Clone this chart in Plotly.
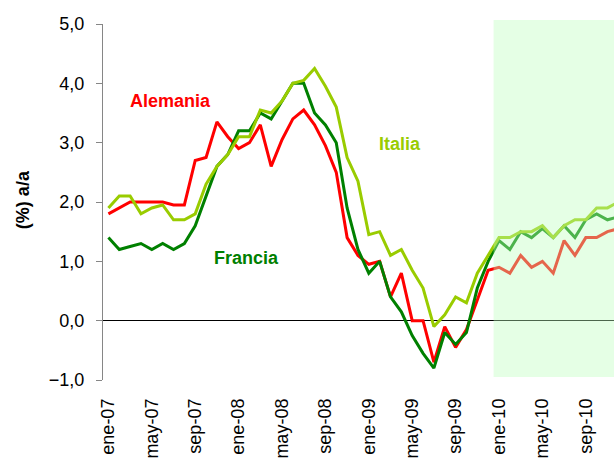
import plotly.graph_objects as go

# Spanish month abbreviations and years shown on the x axis
month_abbr = ['ene', 'feb', 'mar', 'abr', 'may', 'jun',
              'jul', 'ago', 'sep', 'oct', 'nov', 'dic']
years = ['07', '08', '09', '10']
months = [f'{m}-{y}' for y in years for m in month_abbr]

# year-on-year inflation (%), 2010 = forecast
alemania = [1.8, 1.9, 2.0, 2.0, 2.0, 2.0, 1.95, 1.95, 2.7, 2.75, 3.35, 3.1,
            2.9, 3.0, 3.3, 2.6, 3.05, 3.4, 3.55, 3.3, 2.95, 2.5, 1.4, 1.1,
            0.95, 1.0, 0.4, 0.8, 0.0, 0.0, -0.7, -0.1, -0.45, -0.15, 0.35, 0.85,
            0.9, 0.8, 1.1, 0.9, 1.0, 0.8, 1.35, 1.1, 1.4, 1.4, 1.5, 1.55]
francia = [1.4, 1.2, 1.25, 1.3, 1.2, 1.3, 1.2, 1.3, 1.6, 2.1, 2.6, 2.8,
           3.2, 3.2, 3.5, 3.4, 3.7, 4.0, 4.0, 3.5, 3.3, 3.0, 1.9, 1.2,
           0.8, 1.0, 0.4, 0.15, -0.25, -0.55, -0.8, -0.2, -0.4, -0.2, 0.55, 1.0,
           1.35, 1.2, 1.5, 1.4, 1.55, 1.4, 1.6, 1.4, 1.7, 1.8, 1.7, 1.75]
italia = [1.9, 2.1, 2.1, 1.8, 1.9, 1.95, 1.7, 1.7, 1.8, 2.3, 2.6, 2.8,
          3.1, 3.1, 3.55, 3.5, 3.7, 4.0, 4.05, 4.25, 3.95, 3.6, 2.75, 2.35,
          1.45, 1.5, 1.1, 1.2, 0.85, 0.55, -0.1, 0.1, 0.4, 0.3, 0.8, 1.1,
          1.4, 1.4, 1.5, 1.5, 1.6, 1.4, 1.6, 1.7, 1.7, 1.9, 1.9, 2.0]

forecast_start = 'ene-10'

series = [
    ('Alemania', alemania, '#ff0000'),
    ('Francia', francia, '#008000'),
    ('Italia', italia, '#99cc00'),
]

FONT = 'Liberation Sans, Arial, sans-serif'

fig = go.Figure()
for name, vals, color in series:
    fig.add_trace(go.Scatter(
        x=months, y=vals, name=name, mode='lines',
        line=dict(color=color, width=3),
    ))

# x range: first category at -0.5, chart cut off at the right
x_range = [-0.5, 46.6]
boundary_ticks = [k - 0.5 for k in range(0, len(months), 4)]

fig.update_layout(
    width=614, height=464,
    margin=dict(l=103, r=0, t=24, b=84),
    plot_bgcolor='white', paper_bgcolor='white',
    showlegend=False,
    separators=',.',
    font=dict(family=FONT, size=18, color='black'),
    xaxis=dict(
        type='category', range=x_range,
        tickmode='linear', tick0=0, dtick=4,
        tickangle=-90, ticks='', showline=False, showgrid=False,
        zeroline=False, ticklabelstandoff=14, automargin=False,
        tickfont=dict(size=18),
    ),
    xaxis2=dict(
        overlaying='x', anchor='free', position=1 / 6,
        type='linear', range=x_range,
        tickmode='array', tickvals=boundary_ticks,
        ticks='outside', ticklen=6, tickcolor='black',
        showticklabels=False, showline=False, showgrid=False, zeroline=False,
    ),
    yaxis=dict(
        range=[-1, 5], tick0=0, dtick=1, tickformat='.1f',
        ticks='outside', ticklen=6, tickcolor='#868686',
        showline=True, linecolor='#868686', linewidth=1,
        showgrid=False, zeroline=True, zerolinecolor='black', zerolinewidth=1,
        ticklabelstandoff=8, automargin=False,
        tickfont=dict(size=18),
    ),
)

# forecast band
fig.add_shape(
    type='rect', xref='x', yref='paper',
    x0=months.index(forecast_start) - 0.5, x1=len(months),
    y0=0.0084, y1=1.011,
    fillcolor='rgba(190,255,190,0.4)', line=dict(width=0), layer='above',
)

# series labels
labels = [
    ('Alemania', 5.7, 3.71, '#ff0000'),
    ('Italia', 26.9, 2.97, '#99cc00'),
    ('Francia', 12.7, 1.05, '#008000'),
]
for text, lx, ly, color in labels:
    fig.add_annotation(
        x=lx, y=ly, xref='x', yref='y', text=f'<b>{text}</b>',
        showarrow=False, font=dict(size=18, color=color, family=FONT),
    )

fig.add_annotation(
    x=-0.1566, y=0.508, xref='paper', yref='paper',
    xanchor='center', yanchor='middle',
    text='<b>(%) a/a</b>', textangle=-90, showarrow=False,
    font=dict(size=18, color='black', family=FONT),
)

# title, mostly cut off at the top of the picture (as in the original)
fig.add_annotation(
    x=0.399, y=1.065, xref='paper', yref='paper',
    xanchor='center', yanchor='bottom',
    text='<b>Inflación general armonizada (%)</b>', showarrow=False,
    font=dict(size=18, color='black', family=FONT),
)

# page body has a default 8px margin; drop it so the figure fills the window
fig.write_html('out.html', config={'displayModeBar': False},
               post_script="document.body.style.margin='0';")
